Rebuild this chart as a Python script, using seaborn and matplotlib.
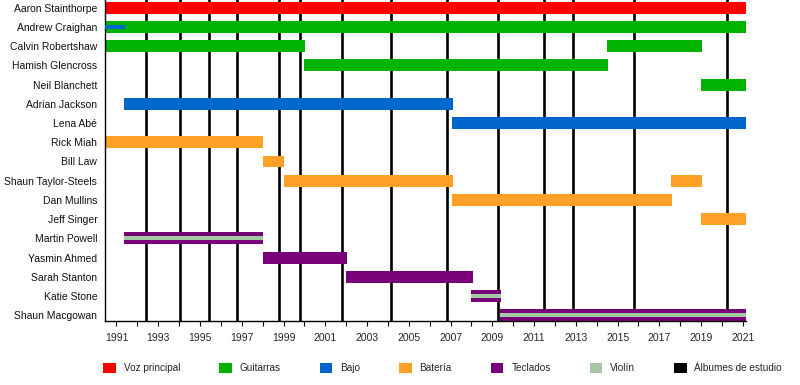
import matplotlib
matplotlib.use("Agg")
import matplotlib.pyplot as plt
from matplotlib.patches import Patch
from matplotlib.ticker import MultipleLocator
import seaborn as sns
import pandas as pd

# --- data ---
members = ["Aaron Stainthorpe", "Andrew Craighan", "Calvin Robertshaw", "Hamish Glencross",
           "Neil Blanchett", "Adrian Jackson", "Lena Abé", "Rick Miah", "Bill Law",
           "Shaun Taylor-Steels", "Dan Mullins", "Jeff Singer", "Martin Powell",
           "Yasmin Ahmed", "Sarah Stanton", "Katie Stone", "Shaun Macgowan"]

# one entry per bar (decimal years)
bar_member = ["Aaron Stainthorpe", "Andrew Craighan", "Calvin Robertshaw", "Calvin Robertshaw",
              "Hamish Glencross", "Neil Blanchett", "Adrian Jackson", "Lena Abé", "Rick Miah",
              "Bill Law", "Shaun Taylor-Steels", "Shaun Taylor-Steels", "Dan Mullins",
              "Jeff Singer", "Martin Powell", "Yasmin Ahmed", "Sarah Stanton", "Katie Stone",
              "Shaun Macgowan"]
bar_start = [1990.45, 1990.45, 1990.45, 2014.50, 2000.00, 2019.00, 1991.38, 2007.05, 1990.45,
             1998.00, 1999.00, 2017.56, 2007.05, 2019.00, 1991.38, 1998.00, 2002.00, 2008.00,
             2009.36]
bar_end = [2021.15, 2021.15, 2000.05, 2019.04, 2014.53, 2021.15, 2007.10, 2021.15, 1998.04,
           1999.04, 2007.10, 2019.04, 2017.60, 2021.15, 1998.04, 2002.06, 2008.06, 2009.40,
           2021.15]
bar_role = ["Voz principal", "Guitarras", "Guitarras", "Guitarras", "Guitarras", "Guitarras",
            "Bajo", "Bajo", "Batería", "Batería", "Batería", "Batería", "Batería", "Batería",
            "Teclados", "Teclados", "Teclados", "Teclados", "Teclados"]

# secondary roles drawn as thin stripes inside the main bar
stripe_member = ["Andrew Craighan", "Martin Powell", "Katie Stone", "Shaun Macgowan"]
stripe_start = [1990.45, 1991.38, 2008.00, 2009.36]
stripe_end = [1991.42, 1998.04, 2009.40, 2021.15]
stripe_role = ["Bajo", "Violín", "Violín", "Violín"]

albums = [1992.41, 1994.02, 1995.41, 1996.76, 1998.77, 1999.81, 2001.79, 2004.16,
          2006.85, 2009.27, 2011.48, 2012.87, 2015.80, 2020.26]

roles = ["Voz principal", "Guitarras", "Bajo", "Batería", "Teclados", "Violín", "Álbumes de estudio"]
role_colors = ["#ff0000", "#00b300", "#0066cc", "#ffa126", "#780078", "#a3c9a3", "#000000"]

x_start, x_end = 1990.45, 2021.15

# --- plotting ---
sns.set_theme(style="white")
plt.rcParams['font.family'] = ['Liberation Sans', 'DejaVu Sans']

palette = dict(zip(roles, role_colors))
bars = pd.DataFrame({"member": bar_member, "start": bar_start, "end": bar_end, "role": bar_role})
stripes = pd.DataFrame({"member": stripe_member, "start": stripe_start, "end": stripe_end,
                        "role": stripe_role})
row = {m: i for i, m in enumerate(members)}

fig = plt.figure(figsize=(8, 3.85), dpi=100)
ax = fig.add_axes([105 / 800, 1 - 321 / 385, (746 - 105) / 800, 321 / 385])

ax.vlines(albums, -0.5, 16.5, color="black", linewidth=1.9, zorder=1)

ax.barh(bars["member"].map(row), bars["end"] - bars["start"], left=bars["start"],
        height=0.62, color=bars["role"].map(palette), linewidth=0, zorder=2)
ax.barh(stripes["member"].map(row), stripes["end"] - stripes["start"], left=stripes["start"],
        height=0.21, color=stripes["role"].map(palette), linewidth=0, zorder=3)

ax.set_xlim(x_start, x_end)
ax.set_ylim(16.3, -0.4)
ax.set_yticks(range(len(members)))
ax.set_yticklabels(members)
ax.set_xticks(range(1991, 2022, 2))
ax.xaxis.set_minor_locator(MultipleLocator(1))
ax.tick_params(axis="y", length=0, pad=5.5, labelsize=7.5, colors="#111111")
ax.tick_params(axis="x", which="both", bottom=True, direction="out", length=3.5,
               width=0.8, color="black", labelsize=7.5, pad=5)
ax.grid(False)
sns.despine(ax=ax)
for s in ["left", "bottom"]:
    ax.spines[s].set_color("black")
    ax.spines[s].set_linewidth(1.0)

handles = [Patch(facecolor=c, edgecolor="none", label=r) for r, c in zip(roles, role_colors)]
fig.legend(handles=handles, loc="center left", bbox_to_anchor=(103 / 800, 1 - 368 / 385),
           ncol=7, frameon=False, fontsize=7.2, handlelength=1.25, handleheight=1.25,
           handletextpad=0.8, columnspacing=3.9, borderpad=0, borderaxespad=0)

fig.savefig("out.png", dpi=100)
